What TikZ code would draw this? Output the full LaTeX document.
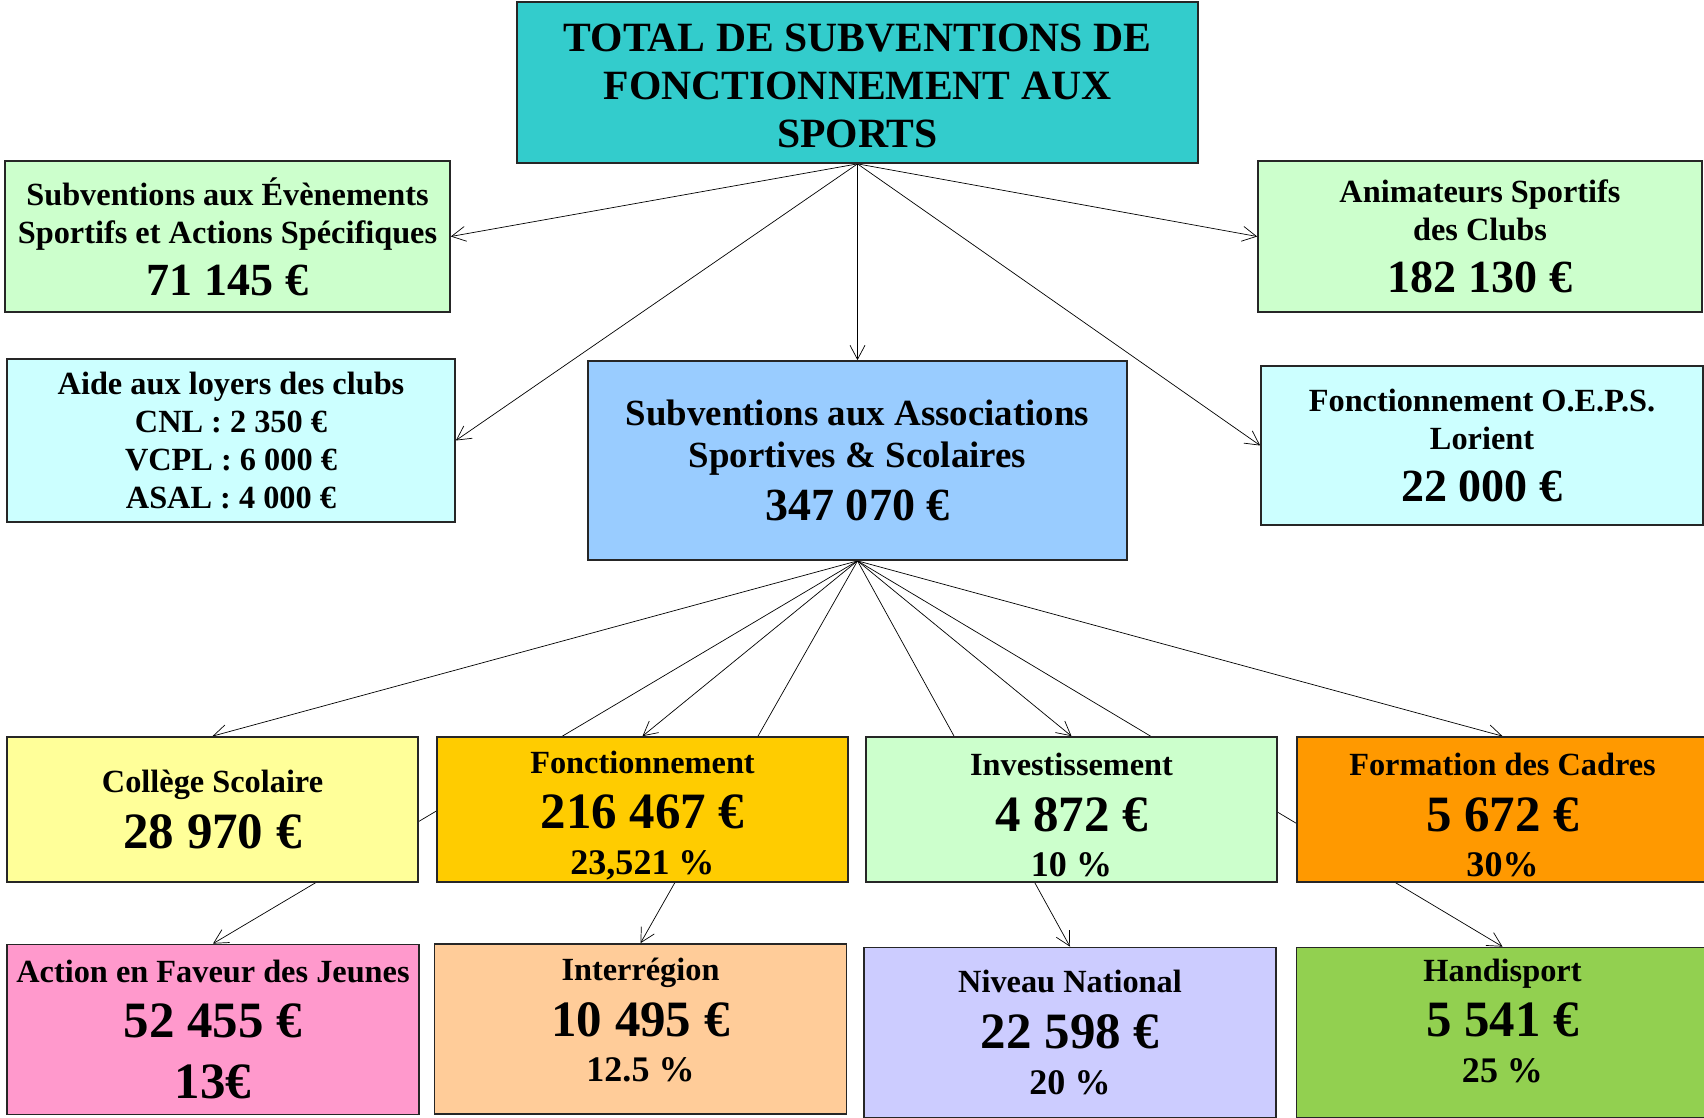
\documentclass[tikz,border=0pt]{standalone}
\usepackage{fontspec}
\setmainfont{Liberation Serif}
\usetikzlibrary{arrows.meta,backgrounds}

\definecolor{teal}{HTML}{33CCCC}
\definecolor{palegreen}{HTML}{CCFFCC}
\definecolor{palecyan}{HTML}{CCFFFF}
\definecolor{skyblue}{HTML}{99CCFF}
\definecolor{paleyellow}{HTML}{FFFF99}
\definecolor{gold}{HTML}{FFCC00}
\definecolor{deeporange}{HTML}{FF9900}
\definecolor{pink}{HTML}{FF99CC}
\definecolor{peach}{HTML}{FFCC99}
\definecolor{lavender}{HTML}{CCCCFF}
\definecolor{grassgreen}{HTML}{92D050}

\newcommand\totalsize{\fontsize{23.7pt}{27.2pt}\selectfont}
\newcommand\labelsize{\fontsize{18.4pt}{21.6pt}\selectfont}
\newcommand\assocsize{\fontsize{21pt}{24.1pt}\selectfont}
\newcommand\topamount{\fontsize{26.2pt}{30pt}\selectfont}
\newcommand\rowamount{\fontsize{29pt}{32pt}\selectfont}
\newcommand\pctsize{\fontsize{20.5pt}{25pt}\selectfont}

\tikzset{
  box/.style={draw=black!85, line width=1pt, align=center, inner sep=0pt,
    font={\bfseries\labelsize\lineskiplimit=-1000pt}},
  midrow/.style={box, minimum width=8.22cm, minimum height=2.9cm},
  lowrow/.style={box, minimum width=8.24cm, minimum height=3.4cm},
}

\begin{document}
\begin{tikzpicture}[x=0.02cm, y=-0.02cm, line width=0.8pt,
    >={Straight Barb[length=8pt,width=8.5pt]}]
	\useasboundingbox (0,0) rectangle (1704,1117);

	% top level
	\node[box, fill=teal, minimum width=13.62cm, minimum height=3.22cm, text height=74.3pt,
		font={\bfseries\totalsize\lineskiplimit=-1000pt}] (total) at (857.5,82.5)
		{\totalsize TOTAL DE SUBVENTIONS DE\\\totalsize FONCTIONNEMENT AUX\\\totalsize SPORTS};

	\node[box, fill=palegreen, minimum width=8.9cm, minimum height=3.02cm] (evts) at (227.5,236.5)
		{Subventions aux Évènements\\Sportifs et Actions Spécifiques\\[8pt]\topamount 71 145 €};
	\node[box, fill=palegreen, minimum width=8.88cm, minimum height=3.02cm] (anim) at (1480,236.5)
		{Animateurs Sportifs\\des Clubs\\[8pt]\topamount 182 130 €};

	\node[box, fill=palecyan, minimum width=8.96cm, minimum height=3.26cm] (loyers) at (231,440.5)
		{Aide aux loyers des clubs\\CNL : 2 350 €\\VCPL : 6 000 €\\ASAL : 4 000 €};
	\node[box, fill=skyblue, minimum width=10.78cm, minimum height=3.98cm,
		font={\bfseries\assocsize\lineskiplimit=-1000pt}] (assoc) at (857.5,460.5)
		{\assocsize Subventions aux Associations\\\assocsize Sportives \& Scolaires\\[6.2pt]\topamount 347 070 €};
	\node[box, fill=palecyan, minimum width=8.84cm, minimum height=3.18cm] (oeps) at (1482,445.5)
		{Fonctionnement O.E.P.S.\\Lorient\\[8pt]\topamount 22 000 €};

	% associations
	\node[midrow, fill=paleyellow] (college) at (212.5,809.5)
		{Collège Scolaire\\[9.9pt]\rowamount 28 970 €};
	\node[midrow, fill=gold, text height=77pt] (fonct) at (642.5,809.5)
		{Fonctionnement\\[9.9pt]\rowamount 216 467 €\\[4.4pt]\pctsize 23,521 \%};
	\node[midrow, fill=palegreen, text height=77pt] (invest) at (1071.5,809.5)
		{Investissement\\[9.9pt]\rowamount 4 872 €\\[4.4pt]\pctsize 10 \%};
	\node[midrow, fill=deeporange, text height=77pt] (cadres) at (1502.5,809.5)
		{Formation des Cadres\\[9.9pt]\rowamount 5 672 €\\[4.4pt]\pctsize 30\%};

	\node[lowrow, fill=pink] (jeunes) at (213,1029.5)
		{Action en Faveur des Jeunes\\[9.9pt]\rowamount 52 455 €\\[13pt]\rowamount 13€};
	\node[lowrow, fill=peach, text depth=10.3pt] (interreg) at (640.5,1029)
		{Interrégion\\[9.9pt]\rowamount 10 495 €\\[4.4pt]\pctsize 12.5 \%};
	\node[lowrow, fill=lavender] (national) at (1070,1032.5)
		{Niveau National\\[9.9pt]\rowamount 22 598 €\\[4.4pt]\pctsize 20 \%};
	\node[lowrow, fill=grassgreen, text depth=13.9pt] (handi) at (1502.5,1032.5)
		{Handisport\\[9.9pt]\rowamount 5 541 €\\[4.4pt]\pctsize 25 \%};

	\begin{scope}[on background layer]
	\draw [arrows=->] (total.south) -- (evts.east);
	\draw [arrows=->] (total.south) -- (loyers.east);
	\draw [arrows=->] (total.south) -- (assoc.north);
	\draw [arrows=->] (total.south) -- (anim.west);
	\draw [arrows=->] (total.south) -- (oeps.west);

	\draw [arrows=->] (assoc.south) -- (college.north);
	\draw [arrows=->] (assoc.south) -- (jeunes.north);
	\draw [arrows=->] (assoc.south) -- (fonct.north);
	\draw [arrows=->] (assoc.south) -- (interreg.north);
	\draw [arrows=->] (assoc.south) -- (invest.north);
	\draw [arrows=->] (assoc.south) -- (national.north);
	\draw [arrows=->] (assoc.south) -- (cadres.north);
	\draw [arrows=->] (assoc.south) -- (handi.north);
	\end{scope}
\end{tikzpicture}
\end{document}
